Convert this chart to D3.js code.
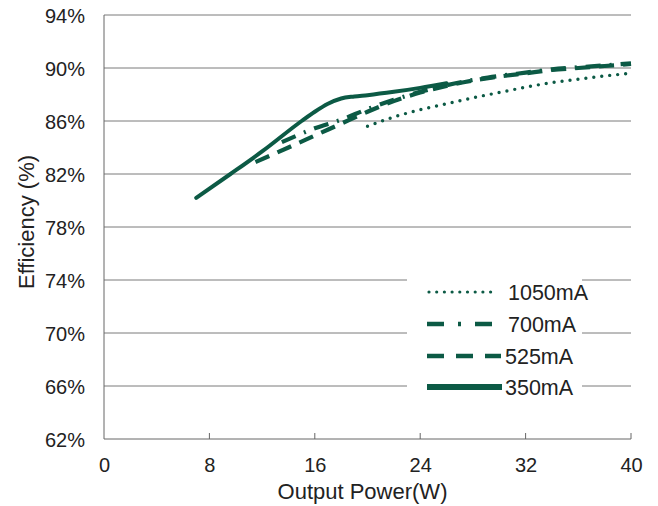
<!DOCTYPE html>
<html>
<head>
<meta charset="utf-8">
<script src="https://cdn.jsdelivr.net/npm/d3@7"></script>
<style>
  html, body { margin: 0; padding: 0; background: #fff; }
  svg { display: block; }
  text { font-family: "Liberation Sans", Arial, sans-serif; fill: #222; }
</style>
</head>
<body>
<svg id="chart" width="658" height="506"></svg>
<script>
// ---- data ----
const xTicks = [0, 8, 16, 24, 32, 40];
const yTicks = [62, 66, 70, 74, 78, 82, 86, 90, 94];

const p1050 = [20, 22, 24, 26, 28, 30, 32, 34, 36, 38, 40];
const e1050 = [85.6, 86.3, 86.85, 87.3, 87.75, 88.15, 88.55, 88.9, 89.15, 89.4, 89.6];

const p700 = [13.5, 16, 18, 20, 22, 24, 26, 28, 30, 32, 34, 36, 38, 40];
const e700 = [84.4, 85.45, 86.1, 86.9, 87.6, 88.2, 88.7, 89.1, 89.4, 89.65, 89.9, 90.05, 90.2, 90.35];

const p525 = [11.5, 14, 16, 18, 20, 22, 24, 26, 28, 30, 32, 34, 36, 38, 40];
const e525 = [82.9, 84.0, 84.9, 85.8, 86.7, 87.5, 88.15, 88.65, 89.05, 89.35, 89.6, 89.85, 90.0, 90.15, 90.3];

const p350 = [7, 9.6, 12, 15, 16, 17, 18, 19, 20, 22, 24, 26];
const e350 = [80.2, 82.0, 83.7, 86.0, 86.7, 87.3, 87.7, 87.85, 87.95, 88.2, 88.5, 88.85];

const seriesNames = ["1050mA", "700mA", "525mA", "350mA"];

// ---- layout ----
const svg = d3.select("#chart");
const W = 658, H = 506;
const mLeft = 104, mRight = 631, mTop = 15, mBottom = 439;
const color = "#0c5a45";

svg.append("rect").attr("width", W).attr("height", H).attr("fill", "#fff");

const x = d3.scaleLinear().domain([0, 40]).range([mLeft, mRight]);
const y = d3.scaleLinear().domain([62, 94]).range([mBottom, mTop]);

// gridlines
svg.append("g").selectAll("line").data(yTicks.slice(1)).join("line")
  .attr("x1", mLeft).attr("x2", mRight)
  .attr("y1", d => y(d)).attr("y2", d => y(d))
  .attr("stroke", "#7a7a7a").attr("stroke-width", 1);

// x axis
const xAxis = d3.axisBottom(x).tickValues(xTicks).tickSize(0).tickPadding(0).tickFormat(d3.format("d"));
const gx = svg.append("g").attr("transform", `translate(0,${mBottom})`).call(xAxis);
gx.select(".domain").remove();
gx.selectAll("text").attr("font-size", 20).attr("dy", null).attr("y", 33)
  .attr("font-family", "Liberation Sans, Arial, sans-serif").attr("fill", "#222");
svg.append("line").attr("x1", mLeft).attr("x2", mRight).attr("y1", mBottom).attr("y2", mBottom)
  .attr("stroke", "#666").attr("stroke-width", 1);
svg.append("g").selectAll("line").data(xTicks.slice(1)).join("line")
  .attr("x1", d => x(d)).attr("x2", d => x(d))
  .attr("y1", mBottom).attr("y2", mBottom - 6)
  .attr("stroke", "#666").attr("stroke-width", 1);

// y axis
const yAxis = d3.axisLeft(y).tickValues(yTicks).tickSize(0).tickPadding(0).tickFormat(d => d + "%");
const gy = svg.append("g").attr("transform", `translate(${mLeft},0)`).call(yAxis);
gy.select(".domain").remove();
gy.selectAll("text").attr("font-size", 20).attr("x", -19).attr("dy", "0.35em")
  .attr("font-family", "Liberation Sans, Arial, sans-serif").attr("fill", "#222");
svg.append("line").attr("x1", mLeft).attr("x2", mLeft).attr("y1", mTop).attr("y2", mBottom)
  .attr("stroke", "#666").attr("stroke-width", 1);

// axis titles
svg.append("text").attr("x", (mLeft + mRight) / 2 - 5).attr("y", 499)
  .attr("text-anchor", "middle").attr("font-size", 22).text("Output Power(W)");
svg.append("text").attr("transform", "translate(34,222) rotate(-90)")
  .attr("text-anchor", "middle").attr("font-size", 22).text("Efficiency (%)");

// lines
const styles = {
  "1050mA": { dash: "0,8", width: 3.4, cap: "round" },
  "700mA": { dash: "15,9,2,9", width: 4.2, cap: "butt" },
  "525mA": { dash: "15,9", width: 4.2, cap: "butt" },
  "350mA": { dash: null, width: 4, cap: "round" }
};
const data = [
  { name: "1050mA", xs: p1050, ys: e1050 },
  { name: "700mA", xs: p700, ys: e700 },
  { name: "525mA", xs: p525, ys: e525 },
  { name: "350mA", xs: p350, ys: e350 }
];
const line = d3.line().x(d => x(d[0])).y(d => y(d[1])).curve(d3.curveMonotoneX);
svg.append("g").selectAll("path").data(data).join("path")
  .attr("d", s => line(s.xs.map((v, i) => [v, s.ys[i]])))
  .attr("fill", "none").attr("stroke", color)
  .attr("stroke-width", s => styles[s.name].width)
  .attr("stroke-dasharray", s => styles[s.name].dash)
  .attr("stroke-linecap", s => styles[s.name].cap)
  .attr("stroke-linejoin", "round");

// legend
const lg = svg.append("g");
lg.append("rect").attr("x", 407).attr("y", 275).attr("width", 175).attr("height", 124).attr("fill", "#fff");
const legY = [292, 324, 356, 387];
const legStyles = {
  "1050mA": { dash: "0,7.7", width: 3.2, cap: "round", x2: 496 },
  "700mA": { dash: "17,14,3,14", width: 4.5, cap: "butt", x2: 497 },
  "525mA": { dash: "17,12", width: 4.5, cap: "butt", x2: 501 },
  "350mA": { dash: null, width: 6, cap: "butt", x2: 502 }
};
seriesNames.forEach((n, i) => {
  const st = legStyles[n];
  lg.append("line").attr("x1", n === "1050mA" ? 429 : 427).attr("x2", st.x2)
    .attr("y1", legY[i]).attr("y2", legY[i])
    .attr("stroke", color).attr("stroke-width", st.width)
    .attr("stroke-dasharray", st.dash).attr("stroke-linecap", st.cap);
  lg.append("text").attr("x", i < 2 ? 508 : 505).attr("y", legY[i]).attr("dy", "0.35em")
    .attr("font-size", 21.5).text(n);
});
</script>
</body>
</html>
